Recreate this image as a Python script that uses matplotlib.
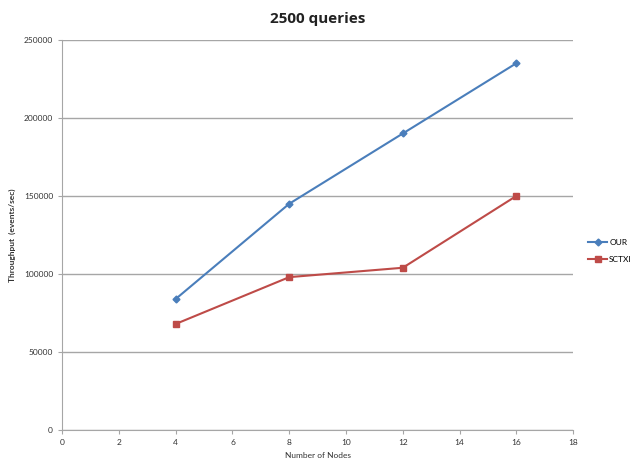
import matplotlib
matplotlib.use('Agg')

import numpy as np
import matplotlib.pyplot as plt

# datos
nodes = [4, 8, 12, 16]
our = [84000, 145000, 190000, 235000]
sctxi = [68000, 98000, 104000, 150000]
series_names = ['OUR', 'SCTXI']

plt.rcParams['font.family'] = ['Lato', 'DejaVu Sans']

fig = plt.figure(figsize=(6.34, 4.63), dpi=100)
ax = fig.add_axes([0.098, 0.071, 0.806, 0.843])

ax.plot(nodes, our, color='#4a7ebb', marker='D', markersize=3.5, linewidth=1.5, label=series_names[0])
ax.plot(nodes, sctxi, color='#be4b48', marker='s', markersize=5, linewidth=1.5, label=series_names[1])

ax.set_xlim(0, 18)
ax.set_ylim(0, 250000)
ax.set_xticks(np.arange(0, 19, 2))
ax.set_yticks(np.arange(0, 250001, 50000))
ax.yaxis.grid(True, color='#a6a6a6', linewidth=1.0)
ax.set_axisbelow(True)

for s in ['top', 'right']:
    ax.spines[s].set_visible(False)
for s in ['left', 'bottom']:
    ax.spines[s].set_color('#a6a6a6')
ax.tick_params(axis='both', labelsize=6, color='#a6a6a6', length=3, labelcolor='#333333')

ax.set_xlabel('Number of Nodes', fontsize=6, color='#333333', labelpad=4)
ax.set_ylabel('Throughput  (events/sec)', fontsize=6, color='#333333', fontweight='bold', labelpad=6)
ax.set_title('2500 queries', fontsize=11, fontweight='bold', color='#222222', pad=12,
             family=['Open Sans', 'DejaVu Sans'])

ax.legend(loc='center left', bbox_to_anchor=(1.015, 0.46), frameon=False, fontsize=6,
          handlelength=2.3, labelspacing=1.2, handletextpad=0.2)

fig.savefig('out.png', dpi=100)
